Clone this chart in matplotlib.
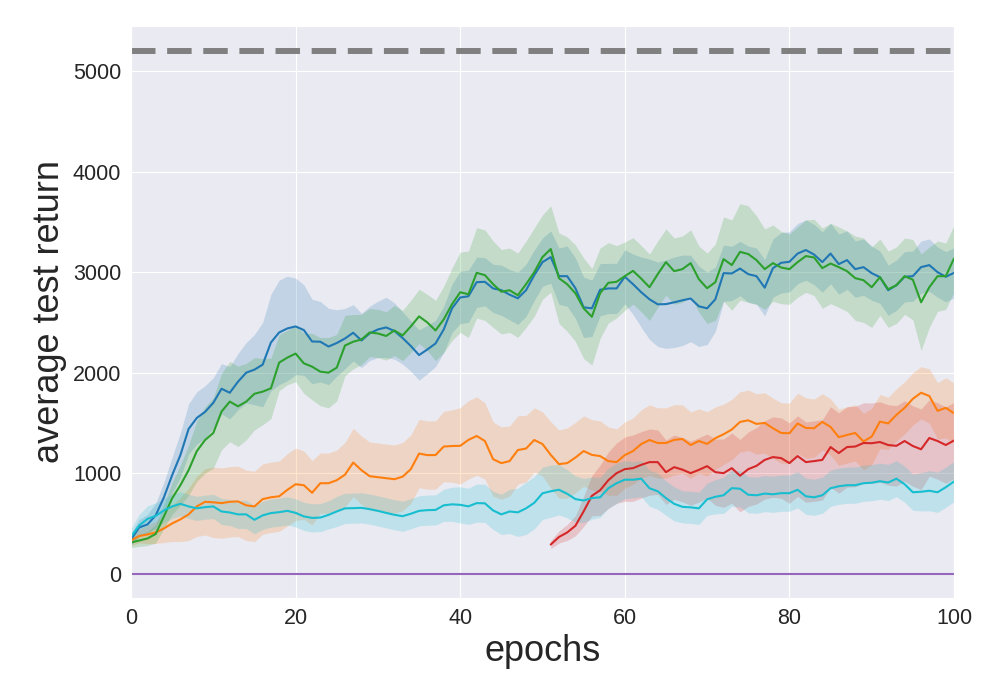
import numpy as np
import matplotlib
matplotlib.use("Agg")
import matplotlib.pyplot as plt
import seaborn as sns

sns.set_style("darkgrid")
plt.rcParams['font.family'] = ['Liberation Sans', 'DejaVu Sans']

# epochs 0..100, values
epochs = list(range(101))

blue_mean = [340, 460, 490, 580, 760, 980, 1180, 1440, 1550, 1610,
             1700, 1840, 1800, 1910, 2000, 2030, 2080, 2300, 2400, 2440,
             2460, 2424, 2310, 2308, 2260, 2295, 2340, 2397, 2320, 2391,
             2430, 2450, 2415, 2345, 2265, 2175, 2230, 2290, 2430, 2639,
             2748, 2760, 2900, 2904, 2838, 2821, 2776, 2740, 2820, 2970,
             3100, 3150, 2960, 2960, 2840, 2650, 2640, 2825, 2838, 2838,
             2954, 2880, 2800, 2730, 2680, 2682, 2700, 2720, 2738, 2660,
             2640, 2730, 2990, 2987, 3036, 2980, 2960, 2845, 3040, 3093,
             3103, 3185, 3220, 3175, 3100, 3185, 3080, 3120, 3030, 3050,
             2990, 2950, 2820, 2870, 2954, 2960, 3050, 3070, 3000, 2954,
             2993]
blue_sd = [60, 80, 100, 120, 150, 180, 220, 250, 260, 260,
           250, 250, 260, 280, 300, 350, 420, 480, 520, 520,
           480, 450, 420, 400, 380, 330, 300, 280, 270, 270,
           280, 300, 280, 260, 250, 250, 240, 230, 230, 240,
           260, 260, 250, 240, 240, 250, 250, 260, 260, 250,
           240, 260, 280, 300, 300, 300, 280, 260, 250, 250,
           270, 300, 350, 400, 420, 440, 450, 450, 430, 400,
           360, 320, 280, 270, 270, 280, 280, 280, 290, 300,
           300, 300, 300, 300, 300, 300, 300, 290, 280, 280,
           270, 260, 250, 250, 250, 250, 260, 260, 250, 250,
           250]

green_mean = [310, 330, 350, 395, 570, 750, 880, 1030, 1220, 1330,
              1400, 1613, 1712, 1665, 1712, 1790, 1811, 1844, 2100, 2150,
              2190, 2093, 2060, 2010, 2000, 2050, 2270, 2308, 2330, 2400,
              2390, 2365, 2420, 2370, 2460, 2560, 2500, 2420, 2530, 2680,
              2800, 2780, 2993, 2970, 2880, 2805, 2820, 2770, 2880, 3000,
              3150, 3230, 2940, 2880, 2790, 2640, 2556, 2790, 2894, 2904,
              2960, 3013, 2935, 2850, 2980, 3100, 3010, 3030, 3090, 2930,
              2840, 2900, 3130, 3070, 3202, 3180, 3120, 3030, 3090, 3046,
              3030, 3100, 3160, 3146, 3040, 3086, 3050, 3010, 2940, 2920,
              2850, 2950, 2830, 2870, 2960, 2925, 2700, 2850, 2960, 2960,
              3136]
green_sd = [50, 60, 70, 90, 120, 160, 200, 250, 300, 330,
            350, 380, 400, 400, 380, 360, 330, 300, 280, 270,
            280, 300, 330, 340, 350, 330, 300, 270, 250, 240,
            240, 240, 250, 250, 260, 270, 280, 300, 330, 360,
            400, 430, 450, 450, 430, 420, 420, 420, 430, 440,
            420, 430, 450, 470, 480, 500, 480, 450, 400, 360,
            340, 330, 330, 330, 330, 330, 330, 330, 330, 330,
            350, 380, 420, 450, 480, 480, 440, 400, 380, 360,
            350, 350, 360, 380, 400, 400, 400, 400, 420, 420,
            400, 380, 380, 380, 380, 400, 480, 400, 350, 330,
            330]

orange_mean = [330, 375, 390, 410, 450, 500, 540, 590, 670, 715,
               710, 702, 715, 719, 680, 669, 742, 760, 770, 834,
               890, 880, 805, 900, 900, 930, 985, 1106, 1030, 970,
               960, 950, 940, 965, 1040, 1195, 1180, 1180, 1265, 1270,
               1272, 1331, 1370, 1320, 1139, 1100, 1120, 1230, 1245, 1330,
               1290, 1182, 1090, 1100, 1155, 1220, 1182, 1170, 1120, 1110,
               1180, 1220, 1290, 1330, 1300, 1300, 1331, 1340, 1280, 1320,
               1291, 1348, 1387, 1434, 1510, 1526, 1490, 1500, 1447, 1400,
               1397, 1495, 1450, 1447, 1510, 1460, 1358, 1380, 1400, 1315,
               1364, 1513, 1495, 1580, 1650, 1740, 1800, 1768, 1620, 1650,
               1596]
orange_sd = [50, 70, 90, 110, 140, 180, 220, 260, 300, 330,
             350, 350, 350, 350, 350, 350, 350, 350, 350, 360,
             360, 340, 320, 300, 300, 300, 320, 340, 340, 340,
             340, 340, 340, 340, 340, 340, 340, 340, 350, 360,
             380, 390, 390, 380, 370, 360, 350, 340, 330, 320,
             320, 330, 340, 350, 350, 350, 350, 350, 340, 330,
             330, 330, 340, 350, 350, 350, 350, 340, 330, 320,
             320, 310, 300, 300, 300, 300, 300, 300, 300, 300,
             300, 300, 300, 290, 280, 280, 280, 280, 280, 280,
             280, 270, 260, 260, 260, 260, 260, 270, 280, 300,
             300]

cyan_mean = [370, 480, 545, 575, 630, 669, 695, 669, 650, 662,
             669, 619, 609, 590, 590, 536, 580, 603, 612, 625,
             605, 570, 555, 558, 585, 619, 650, 652, 655, 642,
             625, 605, 586, 572, 596, 625, 632, 634, 680, 690,
             685, 670, 702, 700, 629, 590, 619, 610, 650, 705,
             800, 820, 835, 795, 742, 728, 752, 760, 850, 900,
             935, 935, 945, 850, 820, 752, 695, 665, 660, 650,
             740, 765, 780, 851, 845, 785, 780, 797, 790, 801,
             801, 835, 770, 760, 780, 850, 870, 880, 880, 900,
             905, 920, 907, 945, 890, 810, 815, 825, 810, 860,
             917]
cyan_sd = [80, 110, 130, 130, 120, 120, 120, 120, 120, 120,
           120, 130, 130, 140, 140, 140, 140, 140, 140, 140,
           140, 140, 140, 140, 140, 150, 150, 150, 150, 150,
           150, 150, 150, 150, 150, 150, 150, 150, 160, 170,
           180, 180, 190, 190, 190, 200, 220, 240, 260, 260,
           260, 260, 250, 240, 230, 220, 210, 200, 200, 200,
           190, 180, 180, 180, 180, 170, 170, 160, 160, 160,
           160, 170, 180, 180, 180, 180, 180, 180, 180, 180,
           180, 180, 180, 180, 180, 180, 180, 180, 180, 180,
           180, 180, 180, 180, 180, 180, 190, 200, 200, 200,
           200]

# red run only starts half way
red_start = 51
red_mean = [290, 365, 410, 477, 620, 775, 830, 930, 1000,
            1040, 1050, 1083, 1110, 1110, 1010, 1060, 1035, 1000, 1033,
            1070, 1010, 1000, 1050, 975, 1040, 1073, 1132, 1160, 1150,
            1100, 1170, 1110, 1120, 1132, 1260, 1200, 1260, 1265, 1300,
            1298, 1310, 1280, 1272, 1320, 1270, 1238, 1350, 1320, 1280,
            1325]
red_sd = [40, 60, 80, 100, 150, 200, 250, 280, 300,
          320, 330, 330, 330, 320, 320, 320, 320, 320, 320,
          320, 330, 340, 350, 360, 370, 380, 390, 400, 400,
          400, 400, 400, 400, 400, 400, 400, 400, 400, 400,
          400, 400, 400, 400, 400, 400, 400, 380, 380, 380,
          380]

target_return = 5205
baseline_return = 0

fig, ax = plt.subplots(figsize=(10, 7), dpi=100)
fig.subplots_adjust(left=0.131, right=0.954, bottom=0.146, top=0.963)

x = np.array(epochs)
series = [
    (x, blue_mean, blue_sd, 'tab:blue'),
    (x, orange_mean, orange_sd, 'tab:orange'),
    (x, green_mean, green_sd, 'tab:green'),
    (x[red_start:], red_mean, red_sd, 'tab:red'),
]
for xs, m, s, c in series:
    m = np.array(m, dtype=float)
    s = np.array(s, dtype=float)
    ax.fill_between(xs, m - s, m + s, color=c, alpha=0.2, linewidth=0)
    ax.plot(xs, m, color=c, linewidth=1.5)

ax.axhline(baseline_return, color='tab:purple', linewidth=1.5)

m = np.array(cyan_mean, dtype=float)
s = np.array(cyan_sd, dtype=float)
ax.fill_between(x, m - s, m + s, color='tab:cyan', alpha=0.2, linewidth=0)
ax.plot(x, m, color='tab:cyan', linewidth=1.5)

# thick grey dashed reference level
ax.axhline(target_return, color='grey', linewidth=4.3, linestyle=(0, (4.1, 1.95)))

ax.set_xlim(0, 100)
ax.set_ylim(-240, 5450)
ax.set_xticks([0, 20, 40, 60, 80, 100])
ax.set_yticks([0, 1000, 2000, 3000, 4000, 5000])
ax.tick_params(labelsize=15.5)
ax.set_xlabel('epochs', fontsize=26)
ax.set_ylabel('average test return', fontsize=26)

fig.savefig('out.png')
